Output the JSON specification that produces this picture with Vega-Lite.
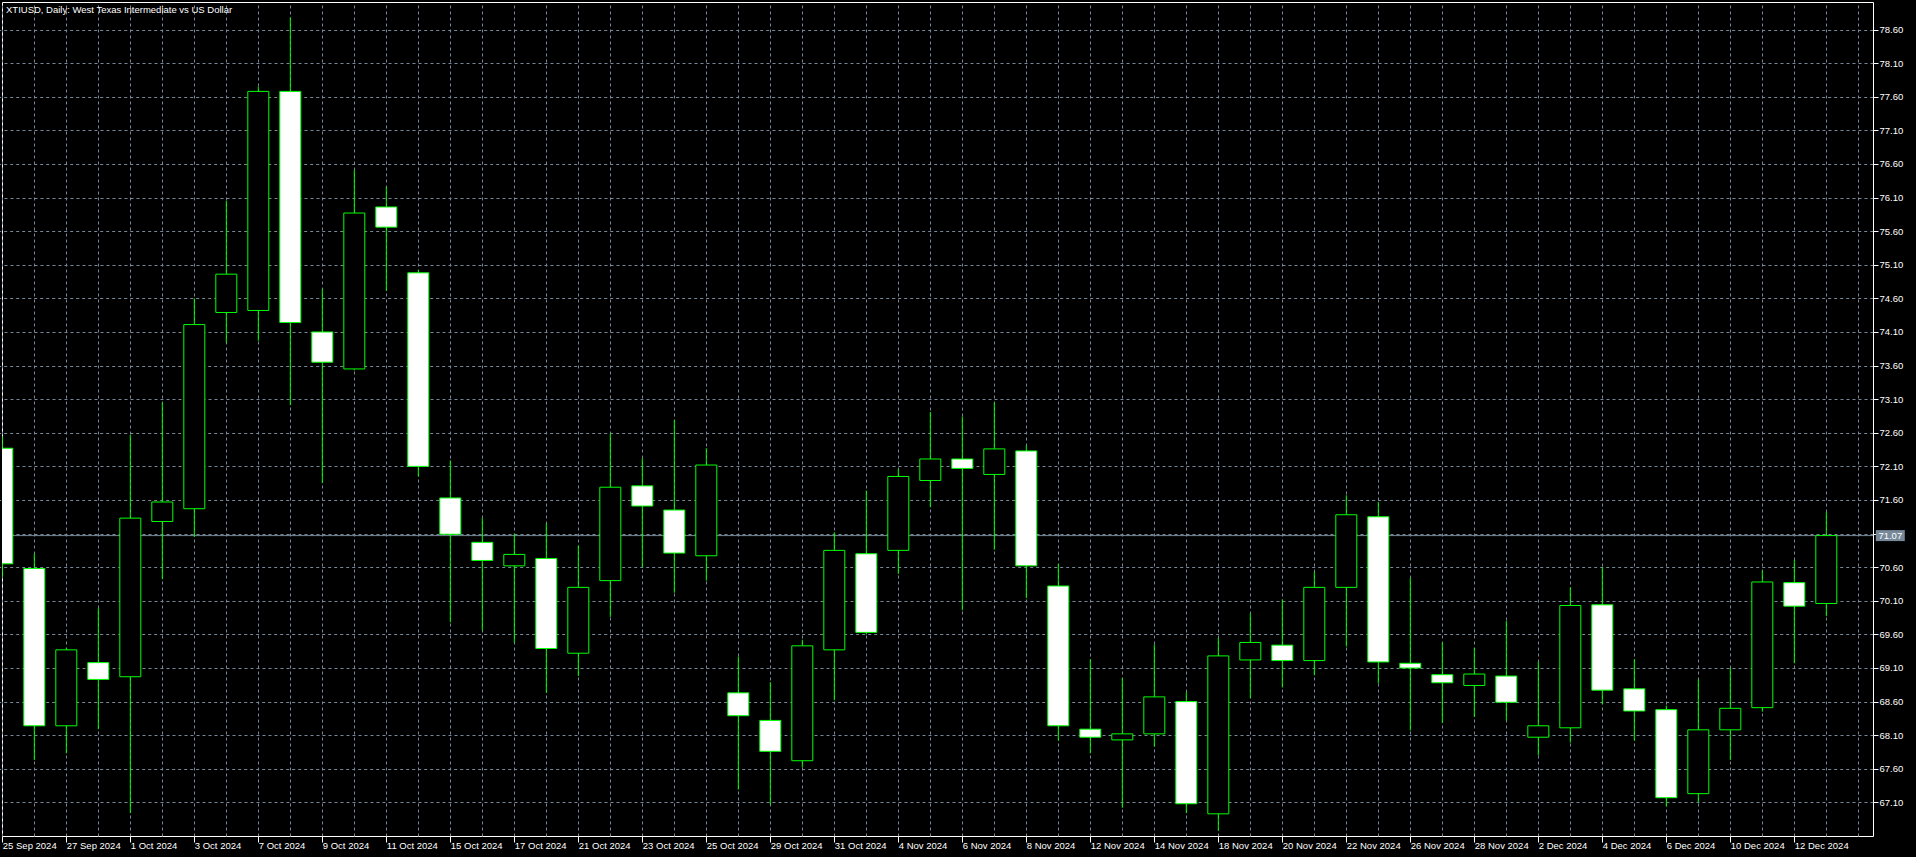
{
  "$schema": "https://vega.github.io/schema/vega-lite/v6.json",
  "width": 1871,
  "height": 834,
  "autosize": {"type": "none"},
  "padding": {"left": 2, "top": 2, "right": 43, "bottom": 21},
  "background": "#000000",
  "title": {
    "text": "XTIUSD, Daily:  West Texas Intermediate vs US Dollar",
    "anchor": "start",
    "orient": "top",
    "frame": "group",
    "color": "#ffffff",
    "font": "Liberation Sans",
    "fontSize": 9.5,
    "fontWeight": "normal",
    "baseline": "alphabetic",
    "offset": 0,
    "dy": 20,
    "dx": 4
  },
  "datasets": {
    "candles": [
      {"date": "25 Sep 2024", "open": 72.37, "high": 72.55, "low": 70.45, "close": 70.65},
      {"date": "26 Sep 2024", "open": 70.58, "high": 70.80, "low": 67.73, "close": 68.24},
      {"date": "27 Sep 2024", "open": 68.24, "high": 69.40, "low": 67.83, "close": 69.37},
      {"date": "30 Sep 2024", "open": 69.18, "high": 69.99, "low": 68.19, "close": 68.93},
      {"date": "1 Oct 2024", "open": 68.97, "high": 72.57, "low": 66.94, "close": 71.33},
      {"date": "2 Oct 2024", "open": 71.28, "high": 73.05, "low": 70.42, "close": 71.57},
      {"date": "3 Oct 2024", "open": 71.47, "high": 74.60, "low": 71.05, "close": 74.21},
      {"date": "4 Oct 2024", "open": 74.39, "high": 76.05, "low": 73.94, "close": 74.96},
      {"date": "7 Oct 2024", "open": 74.42, "high": 77.75, "low": 73.97, "close": 77.68},
      {"date": "8 Oct 2024", "open": 77.68, "high": 78.78, "low": 73.01, "close": 74.24},
      {"date": "9 Oct 2024", "open": 74.10, "high": 74.74, "low": 71.85, "close": 73.65},
      {"date": "10 Oct 2024", "open": 73.55, "high": 76.51, "low": 73.53, "close": 75.87},
      {"date": "11 Oct 2024", "open": 75.96, "high": 76.26, "low": 74.71, "close": 75.66},
      {"date": "14 Oct 2024", "open": 74.98, "high": 75.02, "low": 71.95, "close": 72.10},
      {"date": "15 Oct 2024", "open": 71.63, "high": 72.19, "low": 69.78, "close": 71.09},
      {"date": "16 Oct 2024", "open": 70.97, "high": 71.33, "low": 69.66, "close": 70.70},
      {"date": "17 Oct 2024", "open": 70.62, "high": 71.10, "low": 69.48, "close": 70.79},
      {"date": "18 Oct 2024", "open": 70.73, "high": 71.25, "low": 68.73, "close": 69.39},
      {"date": "21 Oct 2024", "open": 69.32, "high": 70.92, "low": 68.98, "close": 70.30},
      {"date": "22 Oct 2024", "open": 70.40, "high": 72.59, "low": 69.86, "close": 71.79},
      {"date": "23 Oct 2024", "open": 71.81, "high": 72.22, "low": 70.60, "close": 71.51},
      {"date": "24 Oct 2024", "open": 71.45, "high": 72.79, "low": 70.22, "close": 70.81},
      {"date": "25 Oct 2024", "open": 70.77, "high": 72.37, "low": 70.40, "close": 72.12},
      {"date": "28 Oct 2024", "open": 68.73, "high": 69.27, "low": 67.29, "close": 68.39},
      {"date": "29 Oct 2024", "open": 68.32, "high": 68.89, "low": 67.07, "close": 67.86},
      {"date": "30 Oct 2024", "open": 67.72, "high": 69.52, "low": 67.62, "close": 69.43},
      {"date": "31 Oct 2024", "open": 69.37, "high": 71.12, "low": 68.62, "close": 70.85},
      {"date": "1 Nov 2024", "open": 70.80, "high": 71.74, "low": 69.60, "close": 69.63},
      {"date": "4 Nov 2024", "open": 70.85, "high": 72.06, "low": 70.50, "close": 71.95},
      {"date": "5 Nov 2024", "open": 71.89, "high": 72.91, "low": 71.49, "close": 72.21},
      {"date": "6 Nov 2024", "open": 72.21, "high": 72.84, "low": 69.96, "close": 72.07},
      {"date": "7 Nov 2024", "open": 71.98, "high": 73.05, "low": 70.86, "close": 72.36},
      {"date": "8 Nov 2024", "open": 72.33, "high": 72.41, "low": 70.14, "close": 70.62},
      {"date": "11 Nov 2024", "open": 70.32, "high": 70.65, "low": 68.02, "close": 68.24},
      {"date": "12 Nov 2024", "open": 68.19, "high": 69.23, "low": 67.83, "close": 68.07},
      {"date": "13 Nov 2024", "open": 68.03, "high": 68.95, "low": 67.02, "close": 68.12},
      {"date": "14 Nov 2024", "open": 68.12, "high": 69.45, "low": 67.93, "close": 68.67},
      {"date": "15 Nov 2024", "open": 68.60, "high": 68.74, "low": 66.94, "close": 67.08},
      {"date": "18 Nov 2024", "open": 66.93, "high": 69.55, "low": 66.68, "close": 69.28},
      {"date": "19 Nov 2024", "open": 69.22, "high": 69.91, "low": 68.65, "close": 69.48},
      {"date": "20 Nov 2024", "open": 69.44, "high": 70.12, "low": 68.81, "close": 69.21},
      {"date": "21 Nov 2024", "open": 69.21, "high": 70.53, "low": 68.99, "close": 70.30},
      {"date": "22 Nov 2024", "open": 70.30, "high": 71.67, "low": 69.42, "close": 71.38},
      {"date": "25 Nov 2024", "open": 71.35, "high": 71.57, "low": 68.87, "close": 69.19},
      {"date": "26 Nov 2024", "open": 69.17, "high": 70.44, "low": 68.17, "close": 69.10},
      {"date": "27 Nov 2024", "open": 69.00, "high": 69.48, "low": 68.28, "close": 68.88},
      {"date": "28 Nov 2024", "open": 68.84, "high": 69.40, "low": 68.37, "close": 69.01},
      {"date": "29 Nov 2024", "open": 68.98, "high": 69.80, "low": 68.32, "close": 68.59},
      {"date": "2 Dec 2024", "open": 68.07, "high": 69.19, "low": 67.80, "close": 68.24},
      {"date": "3 Dec 2024", "open": 68.21, "high": 70.30, "low": 67.99, "close": 70.03},
      {"date": "4 Dec 2024", "open": 70.04, "high": 70.60, "low": 68.56, "close": 68.77},
      {"date": "5 Dec 2024", "open": 68.79, "high": 69.23, "low": 68.02, "close": 68.46},
      {"date": "6 Dec 2024", "open": 68.48, "high": 68.54, "low": 67.04, "close": 67.17},
      {"date": "9 Dec 2024", "open": 67.23, "high": 68.93, "low": 67.10, "close": 68.18},
      {"date": "10 Dec 2024", "open": 68.18, "high": 69.10, "low": 67.73, "close": 68.50},
      {"date": "11 Dec 2024", "open": 68.51, "high": 70.55, "low": 68.45, "close": 70.38},
      {"date": "12 Dec 2024", "open": 70.37, "high": 70.71, "low": 69.17, "close": 70.02},
      {"date": "13 Dec 2024", "open": 70.06, "high": 71.42, "low": 69.87, "close": 71.07}
    ],
    "last": [{"price": 71.07}]
  },
  "data": {"name": "candles"},
  "layer": [
    {
      "data": {"name": "last"},
      "mark": {"type": "rule", "color": "#778899", "strokeWidth": 1},
      "encoding": {
        "y": {
          "field": "price", "type": "quantitative",
          "scale": {"domain": [66.60, 79.01], "zero": false, "nice": false},
          "axis": {
            "orient": "right", "grid": true, "title": null, "format": ".2f",
            "tickSize": 5, "labelPadding": 1, "labelOverlap": false,
            "values": [67.1, 68.1, 69.1, 70.1, 71.1, 72.1, 73.1, 74.1, 75.1, 76.1, 77.1, 78.1],
            "labelExpr": "datum.label == '71.10' ? '' : datum.label"
          }
        }
      }
    },
    {
      "mark": {"type": "rule", "color": "#00ff00", "strokeWidth": 1, "clip": true},
      "encoding": {
        "x": {
          "field": "date", "type": "ordinal",
          "scale": {"type": "point", "padding": 0, "range": [0.3, 1888.3],
            "domain": ["25 Sep 2024","26 Sep 2024","27 Sep 2024","30 Sep 2024","1 Oct 2024","2 Oct 2024","3 Oct 2024","4 Oct 2024","7 Oct 2024","8 Oct 2024","9 Oct 2024","10 Oct 2024","11 Oct 2024","14 Oct 2024","15 Oct 2024","16 Oct 2024","17 Oct 2024","18 Oct 2024","21 Oct 2024","22 Oct 2024","23 Oct 2024","24 Oct 2024","25 Oct 2024","28 Oct 2024","29 Oct 2024","30 Oct 2024","31 Oct 2024","1 Nov 2024","4 Nov 2024","5 Nov 2024","6 Nov 2024","7 Nov 2024","8 Nov 2024","11 Nov 2024","12 Nov 2024","13 Nov 2024","14 Nov 2024","15 Nov 2024","18 Nov 2024","19 Nov 2024","20 Nov 2024","21 Nov 2024","22 Nov 2024","25 Nov 2024","26 Nov 2024","27 Nov 2024","28 Nov 2024","29 Nov 2024","2 Dec 2024","3 Dec 2024","4 Dec 2024","5 Dec 2024","6 Dec 2024","9 Dec 2024","10 Dec 2024","11 Dec 2024","12 Dec 2024","13 Dec 2024","16 Dec 2024","17 Dec 2024"]},
          "axis": {
            "orient": "top", "grid": true, "labels": false, "ticks": false, "title": null,
            "values": ["25 Sep 2024","26 Sep 2024","27 Sep 2024","30 Sep 2024","1 Oct 2024","2 Oct 2024","3 Oct 2024","4 Oct 2024","7 Oct 2024","8 Oct 2024","9 Oct 2024","10 Oct 2024","11 Oct 2024","14 Oct 2024","15 Oct 2024","16 Oct 2024","17 Oct 2024","18 Oct 2024","21 Oct 2024","22 Oct 2024","23 Oct 2024","24 Oct 2024","25 Oct 2024","28 Oct 2024","29 Oct 2024","30 Oct 2024","31 Oct 2024","1 Nov 2024","4 Nov 2024","5 Nov 2024","6 Nov 2024","7 Nov 2024","8 Nov 2024","11 Nov 2024","12 Nov 2024","13 Nov 2024","14 Nov 2024","15 Nov 2024","18 Nov 2024","19 Nov 2024","20 Nov 2024","21 Nov 2024","22 Nov 2024","25 Nov 2024","26 Nov 2024","27 Nov 2024","28 Nov 2024","29 Nov 2024","2 Dec 2024","3 Dec 2024","4 Dec 2024","5 Dec 2024","6 Dec 2024","9 Dec 2024","10 Dec 2024","11 Dec 2024","12 Dec 2024","13 Dec 2024","16 Dec 2024"]
          }
        },
        "y": {
          "field": "low", "type": "quantitative",
          "scale": {"domain": [66.60, 79.01], "zero": false, "nice": false},
          "axis": {
            "orient": "right", "grid": true, "title": null, "format": ".2f",
            "tickSize": 5, "labelPadding": 1, "labelOverlap": false,
            "values": [67.6, 68.6, 69.6, 70.6, 71.6, 72.6, 73.6, 74.6, 75.6, 76.6, 77.6, 78.6]
          }
        },
        "y2": {"field": "high"}
      }
    },
    {
      "mark": {"type": "bar", "size": 21, "stroke": "#00ff00", "strokeWidth": 1, "clip": true},
      "encoding": {
        "x": {
          "field": "date", "type": "ordinal",
          "scale": {"type": "point", "padding": 0, "range": [0.3, 1888.3],
            "domain": ["25 Sep 2024","26 Sep 2024","27 Sep 2024","30 Sep 2024","1 Oct 2024","2 Oct 2024","3 Oct 2024","4 Oct 2024","7 Oct 2024","8 Oct 2024","9 Oct 2024","10 Oct 2024","11 Oct 2024","14 Oct 2024","15 Oct 2024","16 Oct 2024","17 Oct 2024","18 Oct 2024","21 Oct 2024","22 Oct 2024","23 Oct 2024","24 Oct 2024","25 Oct 2024","28 Oct 2024","29 Oct 2024","30 Oct 2024","31 Oct 2024","1 Nov 2024","4 Nov 2024","5 Nov 2024","6 Nov 2024","7 Nov 2024","8 Nov 2024","11 Nov 2024","12 Nov 2024","13 Nov 2024","14 Nov 2024","15 Nov 2024","18 Nov 2024","19 Nov 2024","20 Nov 2024","21 Nov 2024","22 Nov 2024","25 Nov 2024","26 Nov 2024","27 Nov 2024","28 Nov 2024","29 Nov 2024","2 Dec 2024","3 Dec 2024","4 Dec 2024","5 Dec 2024","6 Dec 2024","9 Dec 2024","10 Dec 2024","11 Dec 2024","12 Dec 2024","13 Dec 2024","16 Dec 2024","17 Dec 2024"]},
          "axis": {
            "orient": "bottom", "grid": false, "ticks": true, "tickSize": 6, "title": null,
            "labelAlign": "left", "labelBaseline": "top", "labelPadding": -2, "labelAngle": 0,
            "values": ["25 Sep 2024","27 Sep 2024","1 Oct 2024","3 Oct 2024","7 Oct 2024","9 Oct 2024","11 Oct 2024","15 Oct 2024","17 Oct 2024","21 Oct 2024","23 Oct 2024","25 Oct 2024","29 Oct 2024","31 Oct 2024","4 Nov 2024","6 Nov 2024","8 Nov 2024","12 Nov 2024","14 Nov 2024","18 Nov 2024","20 Nov 2024","22 Nov 2024","26 Nov 2024","28 Nov 2024","2 Dec 2024","4 Dec 2024","6 Dec 2024","10 Dec 2024","12 Dec 2024"]
          }
        },
        "y": {
          "field": "open", "type": "quantitative",
          "scale": {"domain": [66.60, 79.01], "zero": false, "nice": false},
          "axis": null
        },
        "y2": {"field": "close"},
        "fill": {"condition": {"test": "datum.close > datum.open", "value": "#000000"}, "value": "#ffffff"}
      }
    },
    {
      "data": {"name": "last"},
      "mark": {"type": "tick", "color": "#778899", "size": 29, "thickness": 11, "opacity": 1},
      "encoding": {
        "x": {"datum": "17 Dec 2024", "type": "ordinal", "axis": null},
        "y": {"field": "price", "type": "quantitative", "scale": {"domain": [66.60, 79.01], "zero": false, "nice": false}, "axis": null}
      }
    },
    {
      "data": {"name": "last"},
      "mark": {"type": "text", "color": "#ffffff", "font": "Liberation Sans", "fontSize": 9.5, "align": "center", "baseline": "middle"},
      "encoding": {
        "x": {"datum": "17 Dec 2024", "type": "ordinal", "axis": null},
        "y": {"field": "price", "type": "quantitative", "scale": {"domain": [66.60, 79.01], "zero": false, "nice": false}, "axis": null},
        "text": {"field": "price", "type": "quantitative", "format": ".2f"}
      }
    }
  ],
  "resolve": {"axis": {"x": "independent", "y": "independent"}},
  "config": {
    "view": {"stroke": "#ffffff", "strokeWidth": 1, "fill": "#000000"},
    "axis": {
      "labelColor": "#ffffff",
      "labelFont": "Liberation Sans",
      "labelFontSize": 9.5,
      "tickColor": "#ffffff",
      "tickWidth": 1,
      "gridColor": "#778899",
      "gridDash": [3, 3],
      "gridWidth": 1,
      "gridOpacity": 1,
      "domain": false,
      "labelOverlap": false,
      "labelFlush": false
    }
  }
}
